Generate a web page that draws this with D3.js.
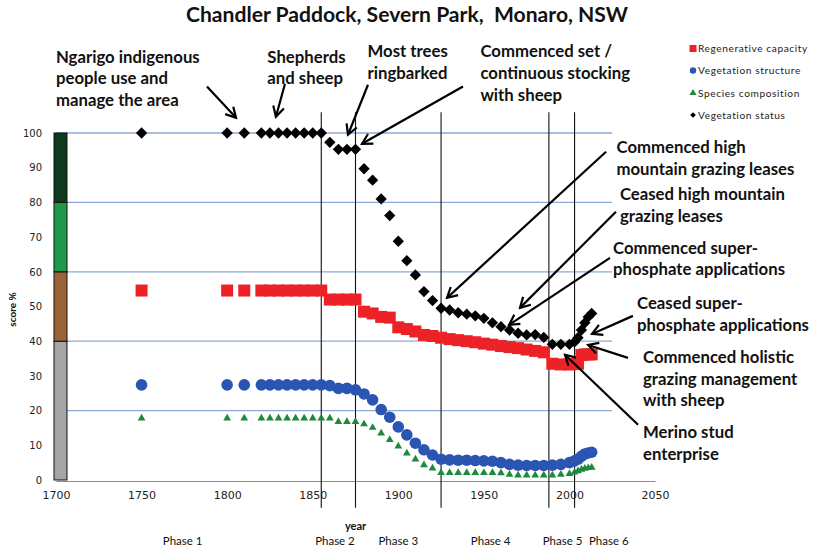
<!DOCTYPE html>
<html>
<head>
<meta charset="utf-8">
<script src="https://cdn.jsdelivr.net/npm/d3@7"></script>
<style>
  html, body { margin: 0; padding: 0; background: #fff; }
  svg { display: block; }
</style>
</head>
<body>
<svg id="chart" width="813" height="552"></svg>
<script>
// ---- data -------------------------------------------------------------
const years = [1750, 1800, 1810,
  1820, 1825, 1830, 1835, 1840, 1845, 1850, 1855,
  1860, 1865, 1870, 1875, 1880, 1885, 1890, 1895, 1900, 1905,
  1910, 1915, 1920, 1925, 1930, 1935, 1940, 1945, 1950, 1955,
  1960, 1965, 1970, 1975, 1980, 1985, 1990, 1995, 2000,
  2003, 2005, 2007, 2009, 2011, 2013];

const regenerativeCapacity = [54.6, 54.6, 54.6,
  54.6, 54.6, 54.6, 54.6, 54.6, 54.6, 54.6, 54.6,
  52, 52, 52, 52, 48.5, 48, 47, 46.8, 44, 43.5,
  42.8, 41.8, 41.5, 41, 40.6, 40.3, 40, 39.7, 39.3, 39,
  38.6, 38.3, 38, 37.6, 37.2, 36.8, 33.5, 33.3, 33.3,
  33.4, 33.5, 36, 36.2, 36.2, 36.2];

const vegetationStructure = [27.4, 27.4, 27.4,
  27.4, 27.4, 27.4, 27.4, 27.4, 27.4, 27.4, 27.4,
  27.2, 26.4, 26.4, 26, 24.8, 23.1, 20.3, 18.1, 15.3, 13,
  10.6, 8.7, 7.2, 6.0, 5.8, 5.7, 5.7, 5.6, 5.5, 5.4,
  5.0, 4.5, 4.3, 4.2, 4.2, 4.2, 4.3, 4.5, 5.0,
  5.5, 6.0, 6.8, 7.5, 7.8, 8.0];

const speciesComposition = [17.8, 17.8, 17.8,
  17.8, 17.8, 17.8, 17.8, 17.8, 17.8, 17.8, 17.8,
  17.8, 16.8, 16.8, 16.8, 16.1, 15.1, 13.5, 11.6, 9.7, 7.7,
  6.0, 4.3, 3.4, 2.1, 2.1, 2.1, 2.1, 2.1, 2.1, 2.1,
  2.0, 1.6, 1.4, 1.4, 1.4, 1.4, 1.4, 1.6, 1.8,
  2.2, 2.6, 3.0, 3.3, 3.5, 3.6];

const vegetationStatus = [100, 100, 100,
  100, 100, 100, 100, 100, 100, 100, 100,
  97.3, 95.3, 95.3, 95.3, 89.7, 86.4, 81, 76.2, 68.8, 63.2,
  59.1, 54.3, 51.7, 49.5, 49.0, 48.2, 47.8, 47.3, 46.6, 45.3,
  44.2, 43.2, 42.3, 41.8, 41.9, 41.1, 39.1, 39.1, 39.1,
  39.8, 41, 43.2, 45.3, 47, 48];

const seriesNames = ["Regenerative capacity", "Vegetation structure",
                     "Species composition", "Vegetation status"];

const xTicks = [1700, 1750, 1800, 1850, 1900, 1950, 2000, 2050];
const yTicks = [0, 10, 20, 30, 40, 50, 60, 70, 80, 90, 100];
const gridValues = [20, 40, 60, 80, 100];

// condition classes shown as the coloured bar beside the score axis
const bandEdges = [0, 40, 60, 80, 100];

// boundaries between management phases and where their labels sit
const phaseYears = [1855, 1875, 1925, 1988, 2003];
const phaseLabels = ["Phase 1", "Phase 2", "Phase 3", "Phase 4", "Phase 5", "Phase 6"];
const phaseLabelYears = [1774, 1863, 1900, 1954, 1996, 2023];

// historical events: text lines, text anchor and arrow (tail -> tip) in [year, score]
const eventText = [
  ["Ngarigo indigenous", "people use and", "manage the area"],
  ["Shepherds", "and sheep"],
  ["Most trees", "ringbarked"],
  ["Commenced set /", "continuous stocking", "with sheep"],
  ["Commenced high", "mountain grazing leases"],
  ["Ceased high mountain", "grazing leases"],
  ["Commenced super-", "phosphate applications"],
  ["Ceased super-", "phosphate applications"],
  ["Commenced holistic", "grazing management", "with sheep"],
  ["Merino stud", "enterprise"]
];
const eventAnchor = [
  [1700, 122], [1823.5, 122], [1882, 123.5], [1948, 123.5],
  [2027.5, 96], [2029.5, 82.5], [2025.5, 67], [2039.5, 51], [2043, 35.5], [2043, 13.7]
];
const eventArrowTail = [
  [1788.2, 113.4], [1833.8, 114.2], [1882.3, 113.9], [1937.8, 113.4],
  [2021.4, 94.6], [2027.2, 77.3], [2023.7, 64.0], [2037.1, 47.3], [2034.2, 35.2], [2040.1, 15.9]
];
const eventArrowTip = [
  [1805.2, 104.4], [1828.5, 104.7], [1870.6, 99.5], [1878.8, 96.9],
  [1928.5, 52.5], [1971.1, 49.6], [1964.7, 44.7], [2013.2, 42.1], [2010.9, 38.9], [1997.4, 36.1]
];

// ---- layout & styles --------------------------------------------------
const W = 813, H = 552;
const colors = { red: "#ec2227", blue: "#2b55b3", green: "#1c8a3c", black: "#000" };
const bandColors = ["#a5a5a5", "#9b6438", "#1f9a4c", "#0d3a1d"];
const boldFont = "Lato, 'Open Sans', sans-serif";

const svg = d3.select("#chart");
svg.append("rect").attr("width", W).attr("height", H).attr("fill", "#fff");

const x = d3.scaleLinear().domain([1700, 2050]).range([56, 655]);
const y = d3.scaleLinear().domain([0, 100]).range([480, 133]);

function fitWidth(sel, target) {
  const w = sel.node().getComputedTextLength();
  const fs = parseFloat(sel.attr("font-size"));
  sel.attr("font-size", (fs * target / w).toFixed(2));
  return fs * target / w;
}

// ---- title ---------------------------------------------------------------
const title = svg.append("text")
  .attr("x", 407).attr("y", 22)
  .attr("text-anchor", "middle")
  .attr("font-family", boldFont).attr("font-weight", 700)
  .attr("font-size", 20).attr("fill", "#111")
  .attr("xml:space", "preserve")
  .text("Chandler Paddock, Severn Park,  Monaro, NSW");
fitWidth(title, 442);

// ---- grid ----------------------------------------------------------------
svg.append("g").selectAll("line").data(gridValues).join("line")
  .attr("x1", x(1700)).attr("x2", 612)
  .attr("y1", d => y(d)).attr("y2", d => y(d))
  .attr("stroke", "#8eaad3").attr("stroke-width", 1.3);

// ---- axes ----------------------------------------------------------------
const xAxis = svg.append("g")
  .attr("transform", `translate(0,${y(0) + 1})`)
  .call(d3.axisBottom(x).tickValues(xTicks).tickSize(0).tickPadding(10).tickFormat(d3.format("d")));
xAxis.select(".domain").attr("stroke", "#8c8c8c").attr("stroke-width", 1.2);
xAxis.selectAll("text").attr("font-family", "'DejaVu Sans', Verdana, sans-serif")
  .attr("font-size", 11).attr("fill", "#222");

const yAxis = svg.append("g")
  .attr("transform", `translate(${x(1700) - 2},0)`)
  .call(d3.axisLeft(y).tickValues(yTicks).tickSize(0).tickPadding(12));
yAxis.select(".domain").remove();
yAxis.selectAll("text").attr("font-family", "'DejaVu Sans', Verdana, sans-serif")
  .attr("font-size", 10).attr("fill", "#222");

// condition class bar
const bandX = x(1700) - 2, bandW = 13;
svg.append("g").selectAll("rect").data(d3.pairs(bandEdges)).join("rect")
  .attr("x", bandX).attr("width", bandW)
  .attr("y", d => y(d[1])).attr("height", d => y(d[0]) - y(d[1]))
  .attr("fill", (d, i) => bandColors[i])
  .attr("stroke", "#111").attr("stroke-width", 1);

// axis titles
svg.append("text")
  .attr("transform", `translate(16,${y(50) + 3}) rotate(-90)`)
  .attr("text-anchor", "middle")
  .attr("font-family", boldFont).attr("font-weight", 700).attr("font-size", 10)
  .attr("fill", "#111").text("score %");

svg.append("text")
  .attr("x", (x.range()[0] + x.range()[1]) / 2).attr("y", 530)
  .attr("text-anchor", "middle")
  .attr("font-family", boldFont).attr("font-weight", 700).attr("font-size", 11)
  .attr("fill", "#111").text("year");

// ---- phase boundaries ------------------------------------------------------
svg.append("g").selectAll("line").data(phaseYears).join("line")
  .attr("x1", d => x(d)).attr("x2", d => x(d))
  .attr("y1", y(106)).attr("y2", y(-8))
  .attr("stroke", "#111").attr("stroke-width", 1.1);

const phaseG = svg.append("g");
phaseLabels.forEach((t, i) => {
  phaseG.append("text")
    .attr("x", x(phaseLabelYears[i])).attr("y", 545)
    .attr("text-anchor", "middle")
    .attr("font-family", "Lato, sans-serif").attr("font-size", 11.5)
    .attr("fill", "#111").text(t);
});

// ---- series ----------------------------------------------------------------
const pts = vals => years.map((yr, i) => ({ yr, v: vals[i] }));

svg.append("g").selectAll("rect").data(pts(regenerativeCapacity)).join("rect")
  .attr("x", d => x(d.yr) - 6).attr("y", d => y(d.v) - 6)
  .attr("width", 12).attr("height", 12)
  .attr("fill", colors.red);

svg.append("g").selectAll("circle").data(pts(vegetationStructure)).join("circle")
  .attr("cx", d => x(d.yr)).attr("cy", d => y(d.v)).attr("r", 5.8)
  .attr("fill", colors.blue);

const tri = d3.symbol().type(d3.symbolTriangle).size(26);
svg.append("g").selectAll("path").data(pts(speciesComposition)).join("path")
  .attr("d", tri)
  .attr("transform", d => `translate(${x(d.yr)},${y(d.v)})`)
  .attr("fill", colors.green);

const dia = d3.symbol().type(d3.symbolSquare).size(64);
svg.append("g").selectAll("path").data(pts(vegetationStatus)).join("path")
  .attr("d", dia)
  .attr("transform", d => `translate(${x(d.yr)},${y(d.v)}) rotate(45)`)
  .attr("fill", colors.black);

// ---- legend ------------------------------------------------------------------
const legend = svg.append("g").attr("transform", "translate(693,0)");
const legendY = [48.5, 70.5, 93, 115];
const legendFont = "Lato, sans-serif";
legend.append("rect").attr("x", -3.5).attr("y", legendY[0] - 3.5).attr("width", 7).attr("height", 7).attr("fill", colors.red);
legend.append("circle").attr("cx", 0).attr("cy", legendY[1]).attr("r", 3.2).attr("fill", colors.blue);
legend.append("path").attr("d", d3.symbol().type(d3.symbolTriangle).size(22)())
  .attr("transform", `translate(0,${legendY[2]})`).attr("fill", colors.green);
legend.append("path").attr("d", d3.symbol().type(d3.symbolSquare).size(16)())
  .attr("transform", `translate(0,${legendY[3]}) rotate(45)`).attr("fill", colors.black);
const legendTexts = seriesNames.map((n, i) => legend.append("text")
  .attr("x", 5).attr("y", legendY[i] + 3.5)
  .attr("font-family", legendFont).attr("font-size", 10)
  .attr("letter-spacing", 0.6).attr("fill", "#222").text(n));
const lfs = fitWidth(legendTexts[0], 110);
legendTexts.forEach(t => t.attr("font-size", lfs.toFixed(2)));

// ---- event annotations ----------------------------------------------------------
svg.append("defs").append("marker")
  .attr("id", "head").attr("markerUnits", "userSpaceOnUse")
  .attr("viewBox", "-12 -7 14 14").attr("refX", 0).attr("refY", 0)
  .attr("markerWidth", 14).attr("markerHeight", 14).attr("orient", "auto")
  .append("path").attr("d", "M-10,-5.5 L0,0 L-10,5.5")
  .attr("fill", "none").attr("stroke", "#000").attr("stroke-width", 2.2)
  .attr("stroke-linejoin", "miter");

const annG = svg.append("g");
// size the annotation font from its longest reference line
const probe = annG.append("text").attr("font-family", boldFont).attr("font-weight", 700)
  .attr("font-size", 17).text("phosphate applications");
const annFs = fitWidth(probe, 172);
probe.remove();

eventText.forEach((lines, i) => {
  const t = annG.append("text")
    .attr("x", x(eventAnchor[i][0])).attr("y", y(eventAnchor[i][1]))
    .attr("font-family", boldFont).attr("font-weight", 700)
    .attr("font-size", annFs.toFixed(2)).attr("fill", "#111");
  lines.forEach((ln, j) => t.append("tspan")
    .attr("x", x(eventAnchor[i][0])).attr("dy", j === 0 ? "0.36em" : 21.8).text(ln));
});

annG.selectAll("line").data(eventArrowTail.map((tail, i) => [tail, eventArrowTip[i]])).join("line")
  .attr("x1", d => x(d[0][0])).attr("y1", d => y(d[0][1]))
  .attr("x2", d => x(d[1][0])).attr("y2", d => y(d[1][1]))
  .attr("stroke", "#000").attr("stroke-width", 2.2)
  .attr("marker-end", "url(#head)");
</script>
</body>
</html>
